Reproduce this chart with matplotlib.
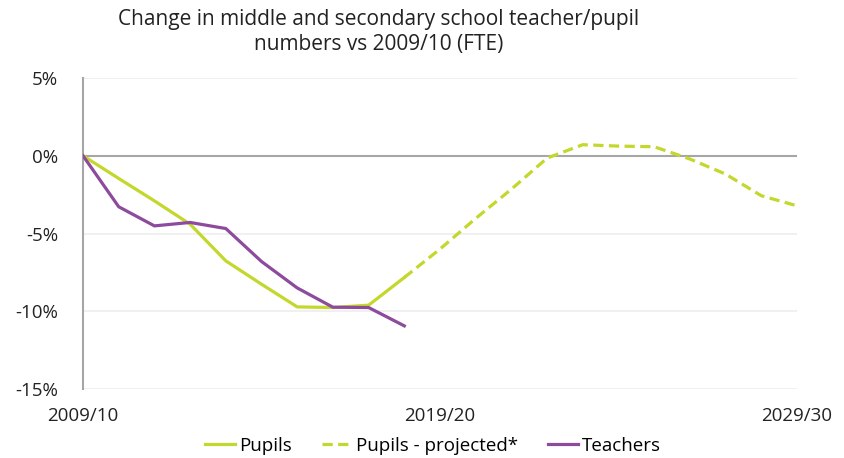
import matplotlib
matplotlib.use("Agg")
from matplotlib import pyplot as plt

plt.rcParams['font.family'] = ['Open Sans', 'DejaVu Sans']

# years since 2009/10
years = list(range(0, 21))
xtick_pos = [0, 10, 20]
xtick_labels = ["2009/10", "2019/20", "2029/30"]

pupils = [0, -1.46, -2.9, -4.4, -6.76, -8.26, -9.72, -9.76, -9.61, -7.83]
pupils_proj = [-7.83, -6.0, -4.03, -2.15, -0.15, 0.71, 0.62, 0.58, -0.21,
               -1.18, -2.57, -3.22]
teachers = [0, -3.28, -4.51, -4.29, -4.68, -6.80, -8.50, -9.74, -9.76, -10.94]

green = "#c3d72c"
purple = "#8e4a9d"

fig = plt.figure(figsize=(8.44, 4.58), dpi=100)
ax = fig.add_axes([83 / 844, 1 - 389 / 458, (797 - 83) / 844, (389 - 78) / 458])

# grid
for v in [5, -5, -10, -15]:
    ax.axhline(v, color="#eeeeee", lw=1.2, zorder=0)
ax.axhline(0, color="#a6a6a6", lw=1.5, zorder=1)

ax.plot(years[:10], pupils, color=green, lw=2.3, label="Pupils", zorder=3)
ax.plot(years[9:], pupils_proj, color=green, lw=2.3, ls=(0, (3.2, 1.7)),
        label="Pupils - projected*", zorder=3)
ax.plot(years[:10], teachers, color=purple, lw=2.3, label="Teachers", zorder=4)

ax.set_xlim(0, 20)
ax.set_ylim(-15, 5)
ax.set_yticks([5, 0, -5, -10, -15])
ax.set_yticklabels(["5%", "0%", "-5%", "-10%", "-15%"])
ax.set_xticks(xtick_pos)
ax.set_xticklabels(xtick_labels)
ax.tick_params(axis="both", length=0, labelsize=13.5, colors="#222222")
ax.tick_params(axis="y", pad=18)
ax.tick_params(axis="x", pad=13)

for s in ["top", "right", "bottom"]:
    ax.spines[s].set_visible(False)
ax.spines["left"].set_color("#a6a6a6")
ax.spines["left"].set_linewidth(1.5)

fig.text(379 / 844, 1 - 32 / 458,
         "Change in middle and secondary school teacher/pupil\nnumbers vs 2009/10 (FTE)",
         ha="center", va="center", fontsize=15, color="#222222",
         linespacing=1.25)

fig.legend(loc="center", bbox_to_anchor=(433 / 844, 1 - 446 / 458), ncol=3,
           frameon=False, fontsize=13.5, handlelength=1.6, handletextpad=0.2,
           columnspacing=1.6)

plt.savefig("out.png", dpi=100)
